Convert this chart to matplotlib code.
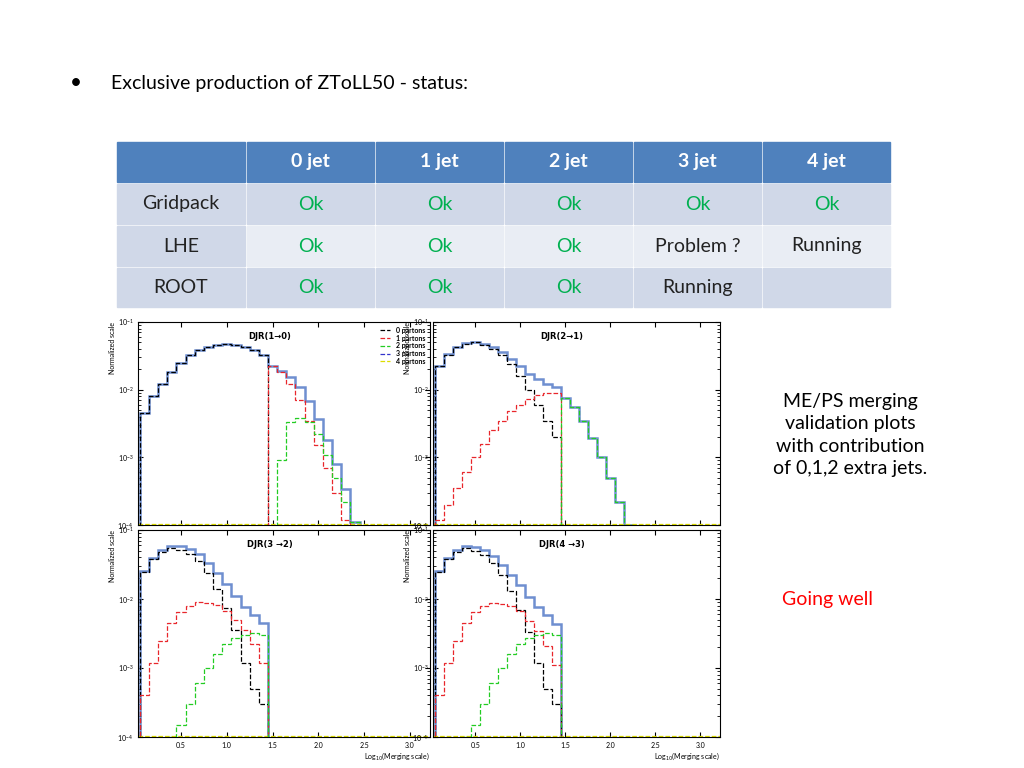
import numpy as np
import matplotlib
matplotlib.use("Agg")
import matplotlib.pyplot as plt
from matplotlib.patches import Rectangle

plt.rcParams['font.family'] = ['Lato', 'DejaVu Sans']

# ---- table data ----
col_labels = ["", "0 jet", "1 jet", "2 jet", "3 jet", "4 jet"]
row_labels = ["Gridpack", "LHE", "ROOT"]
cells = [["Ok", "Ok", "Ok", "Ok", "Ok"],
         ["Ok", "Ok", "Ok", "Problem ?", "Running"],
         ["Ok", "Ok", "Ok", "Running", ""]]

# ---- histogram data (bin width 0.1, first bin edge 0.05); (start_bin, values) ----
bin_w = 0.1
x0 = 0.05
djr1_0p = (0, [0.0045, 0.008, 0.012, 0.018, 0.025, 0.032, 0.038, 0.043, 0.046, 0.047, 0.046, 0.043, 0.038, 0.032])
djr1_1p = (14, [0.022, 0.018, 0.012, 0.007, 0.0035, 0.0015, 0.0007, 0.0003, 0.00012])
djr1_2p = (15, [0.0009, 0.0033, 0.0038, 0.0033, 0.0022, 0.0011, 0.0005, 0.00022, 0.00011])

djr2_0p = (0, [0.022, 0.033, 0.042, 0.048, 0.05, 0.046, 0.04, 0.032, 0.024, 0.016, 0.01, 0.006, 0.0035, 0.002])
djr2_1p = (0, [0.00012, 0.0002, 0.00035, 0.0006, 0.001, 0.0016, 0.0025, 0.0035, 0.0048, 0.006, 0.0072, 0.0082, 0.0088, 0.009])
djr2_2p = (14, [0.0075, 0.0055, 0.0035, 0.0019, 0.001, 0.0005, 0.00022, 0.0001])

djr3_0p = (0, [0.025, 0.038, 0.048, 0.055, 0.052, 0.045, 0.035, 0.024, 0.014, 0.0075, 0.0035, 0.0012, 0.0005, 0.0003])
djr3_1p = (0, [0.0004, 0.0012, 0.0025, 0.0045, 0.0065, 0.008, 0.009, 0.0088, 0.0082, 0.0068, 0.005, 0.0035, 0.0022, 0.0012])
djr3_2p = (3, [0.0001, 0.00015, 0.0003, 0.0006, 0.001, 0.0016, 0.0022, 0.0027, 0.003, 0.0032, 0.003])

djr4_0p = (0, [0.025, 0.038, 0.048, 0.054, 0.05, 0.043, 0.033, 0.022, 0.013, 0.007, 0.0033, 0.0012, 0.0005, 0.0003])
djr4_1p = (0, [0.0004, 0.0012, 0.0025, 0.0045, 0.0065, 0.008, 0.0088, 0.0086, 0.008, 0.0066, 0.0048, 0.0034, 0.0021, 0.0011])
djr4_2p = (3, [0.0001, 0.00015, 0.0003, 0.0006, 0.001, 0.0016, 0.0022, 0.0027, 0.003, 0.0032, 0.003])

panels = [("DJR(1\u21920)", [djr1_0p, djr1_1p, djr1_2p]),
          ("DJR(2\u21921)", [djr2_0p, djr2_1p, djr2_2p]),
          ("DJR(3 \u21922)", [djr3_0p, djr3_1p, djr3_2p]),
          ("DJR(4 \u21923)", [djr4_0p, djr4_1p, djr4_2p])]
series_colors = ["black", "#e8262b", "#22cc22", "#3333cc", "#dddd00"]
series_names = ["0 partons", "1 partons", "2 partons", "3 partons", "4 partons"]

W, H = 1024, 768
fig = plt.figure(figsize=(W/100, H/100), dpi=100)

def fx(px): return px / W
def fy(py): return 1 - py / H

fig.text(fx(76), fy(83), "\u2022", fontsize=15, ha="center", va="center")
fig.text(fx(111), fy(83), "Exclusive production of ZToLL50 - status:", fontsize=14, va="center")

# table
cols_x = [117, 247, 376, 505, 634, 763, 892]
rows_y = [142, 184, 226, 268, 309]
green = "#00b050"
for r in range(4):
    for c in range(6):
        x1, x2 = cols_x[c], cols_x[c+1] - 2
        y1, y2 = rows_y[r], rows_y[r+1] - 2
        if r == 0:
            col = "#4f81bd"
        elif c == 0:
            col = "#d0d8e8"
        else:
            col = "#d0d8e8" if r % 2 == 1 else "#e9edf4"
        if r == 3 and c == 5:
            col = "#d0d8e8"
        fig.patches.append(Rectangle((fx(x1), fy(y2)), fx(x2) - fx(x1), fy(y1) - fy(y2),
                                     transform=fig.transFigure, color=col, zorder=0))
        cx, cy = (x1 + x2) / 2, (y1 + y2) / 2
        if r == 0:
            t, tc, fw = col_labels[c], "white", "bold"
        elif c == 0:
            t, tc, fw = row_labels[r-1], "#222222", "normal"
        else:
            t = cells[r-1][c-1]
            tc, fw = (green if t == "Ok" else "#222222"), "normal"
        if t:
            fig.text(fx(cx), fy(cy), t, ha="center", va="center", fontsize=14, color=tc, fontweight=fw)

# plots
boxes = [(138, 322, 430, 525), (433, 322, 720, 525), (138, 530, 430, 737), (433, 530, 720, 737)]
for i, ((title, series), (l, t, r, b)) in enumerate(zip(panels, boxes)):
    ax = fig.add_axes([fx(l), fy(b), fx(r) - fx(l), fy(t) - fy(b)])
    total = np.zeros(40)
    for k, (start, vals) in enumerate(series):
        vals = np.array(vals)
        edges = x0 + bin_w * np.arange(start, start + len(vals) + 1)
        ax.stairs(vals, edges, color=series_colors[k], ls="--", lw=0.9, baseline=1e-5, zorder=3)
        total[start:start+len(vals)] += vals
    n = np.max(np.nonzero(total)[0]) + 1
    edges = x0 + bin_w * np.arange(0, n + 1)
    ax.stairs(total[:n], edges, color="#6f8fd0", lw=1.8, baseline=1e-5, zorder=2)
    ax.axhline(1.05e-4, color="#dddd00", ls="--", lw=0.9)
    ax.set_yscale("log")
    ax.set_ylim(1e-4, 1e-1)
    ax.set_xlim(0.03, 3.22)
    ax.set_xticks([0.5, 1, 1.5, 2, 2.5, 3])
    ax.tick_params(which="both", direction="in", top=True, right=True, labelsize=5)
    if i < 2:
        ax.set_xticklabels([])
    else:
        ax.set_xlabel("Log$_{10}$(Merging scale)", fontsize=5, loc="right", labelpad=1)
    ax.set_ylabel("Normalized scale", fontsize=5, loc="top", labelpad=1)
    ax.text(0.45, 0.95, title, transform=ax.transAxes, fontsize=6, fontweight="bold",
            ha="center", va="top", family="DejaVu Sans")
    if i == 0:
        for k in range(5):
            ax.plot([], [], ls="--", color=series_colors[k], label=series_names[k], lw=0.9)
        ax.legend(loc="upper right", frameon=False, handlelength=1.5,
                  labelspacing=0.1, borderaxespad=0.3, prop={"weight": "bold", "size": 5})

fig.text(fx(850), fy(435), "ME/PS merging\nvalidation plots\nwith contribution\nof 0,1,2 extra jets.",
         ha="center", va="center", fontsize=14, linespacing=1.4)
fig.text(fx(827), fy(599), "Going well", ha="center", va="center", fontsize=14, color="#ff0000")

fig.savefig("out.png", dpi=100)
